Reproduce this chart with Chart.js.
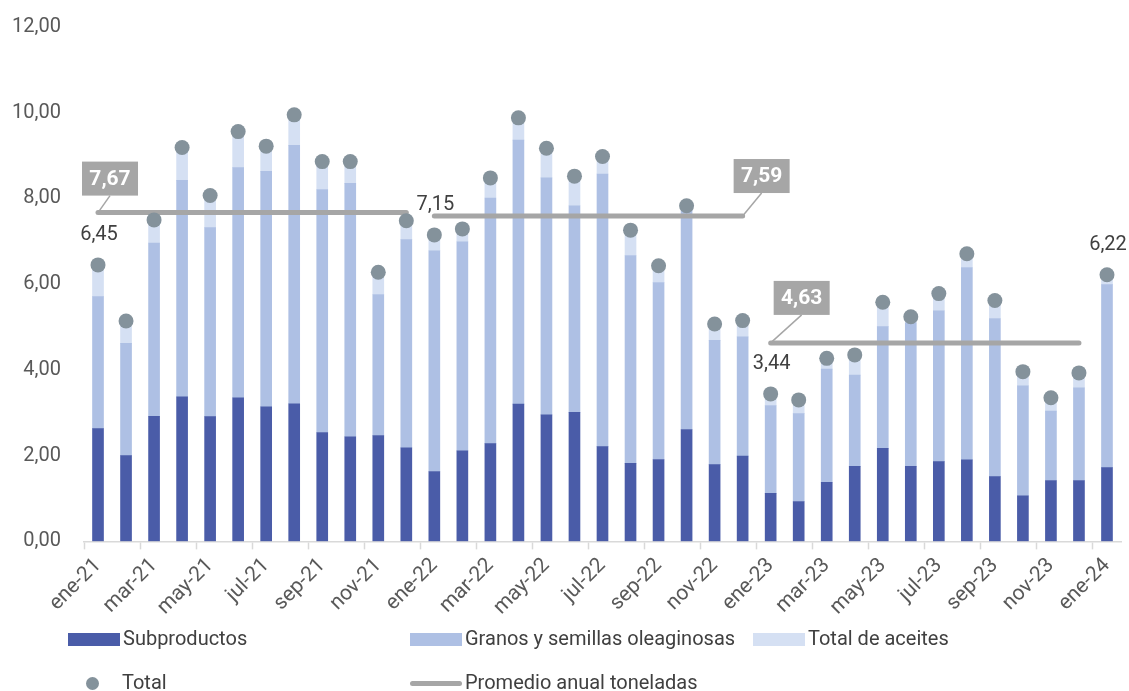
<!DOCTYPE html>
<html>
<head>
<meta charset="utf-8">
<script src="https://cdn.jsdelivr.net/npm/chart.js@4"></script>
<style>
  body { margin:0; background:#fff; font-family: Roboto, sans-serif; }
  #wrap { position:relative; width:1129px; height:691px; }
  #leg { position:absolute; left:0; top:0; width:1129px; height:691px; pointer-events:none; color:#404040; font-size:20px; }
  .it { position:absolute; height:24px; line-height:24px; white-space:nowrap; }
  .sw { display:inline-block; vertical-align:middle; margin-right:3px; }
</style>
</head>
<body>
<div id="wrap">
  <canvas id="myChart" width="1129" height="691"></canvas>
  <div id="leg">
    <div class="it" style="left:68px;top:626px"><span class="sw" style="width:52px;height:13px;background:#4a5ca8"></span>Subproductos</div>
    <div class="it" style="left:410px;top:626px"><span class="sw" style="width:52px;height:13px;background:#aec0e4"></span>Granos y semillas oleaginosas</div>
    <div class="it" style="left:753px;top:626px"><span class="sw" style="width:52px;height:13px;background:#d5e0f3"></span>Total de aceites</div>
    <div class="it" style="left:86px;top:670px"><span class="sw" style="width:13px;height:13px;border-radius:50%;background:#84929b;margin-right:23px"></span>Total</div>
    <div class="it" style="left:410px;top:670px"><span class="sw" style="width:52px;height:5px;border-radius:3px;background:#a6a6a6"></span>Promedio anual toneladas</div>
  </div>
</div>
<script>
var meses = ['ene','feb','mar','abr','may','jun','jul','ago','sep','oct','nov','dic'];
var etiquetas = [];
for (var y = 21; y <= 23; y++) {
    for (var m = 0; m < 12; m++) etiquetas.push(meses[m] + '-' + y);
}
etiquetas.push('ene-24');

var subproductos = [2.63,2.00,2.92,3.37,2.91,3.35,3.14,3.21,2.54,2.44,2.47,2.18,
                    1.63,2.11,2.28,3.20,2.95,3.01,2.21,1.82,1.91,2.61,1.79,1.99,
                    1.12,0.93,1.38,1.75,2.17,1.75,1.86,1.90,1.51,1.06,1.42,1.42,1.72];
var granos = [3.08,2.62,4.04,5.05,4.41,5.37,5.49,6.03,5.67,5.91,3.29,4.86,
              5.15,4.88,5.73,6.16,5.53,4.82,6.36,4.85,4.13,5.14,2.90,2.78,
              2.05,2.05,2.64,2.13,2.84,3.35,3.52,4.49,3.69,2.57,1.62,2.16,4.27];
var aceites = [0.74,0.52,0.54,0.77,0.75,0.84,0.59,0.71,0.65,0.51,0.52,0.44,
               0.37,0.30,0.47,0.52,0.69,0.69,0.41,0.59,0.39,0.08,0.38,0.38,
               0.27,0.32,0.25,0.47,0.57,0.14,0.40,0.32,0.42,0.33,0.31,0.35,0.23];
var total = [6.45,5.14,7.50,9.19,8.07,9.56,9.22,9.95,8.86,8.86,6.28,7.48,
             7.15,7.29,8.48,9.88,9.17,8.52,8.98,7.26,6.43,7.83,5.07,5.15,
             3.44,3.30,4.27,4.35,5.58,5.24,5.78,6.71,5.62,3.96,3.35,3.93,6.22];
var promedios = [7.67, 7.59, 4.63];
var yTicks = [0,2,4,6,8,10,12];

// linea de promedio por año
function promedioAnio(k){
    var d = [];
    for (var i = 0; i < etiquetas.length; i++) d.push(Math.floor(i/12) === k ? promedios[k] : null);
    return d;
}

function fmt(v){ return v.toFixed(2).replace('.', ','); }

var anotaciones = {
    id: 'anotaciones',
    afterDatasetsDraw: function(chart){
        var ctx = chart.ctx, xs = chart.scales.x, ys = chart.scales.y;
        // etiquetas de total
        var lbl = [0, 12, 24, 36];
        ctx.save();
        ctx.font = '20px Roboto';
        ctx.fillStyle = '#404040';
        ctx.textAlign = 'center';
        ctx.textBaseline = 'middle';
        lbl.forEach(function(i){
            ctx.fillText(fmt(total[i]), xs.getPixelForValue(i) + 1, ys.getPixelForValue(total[i]) - 30);
        });
        // cajas de promedio: [indice, dx caja, dy caja]
        var cajas = [[0, 12, -17], [23, 19, -23], [24, 31, -28]];
        cajas.forEach(function(c, k){
            var px = xs.getPixelForValue(c[0]), py = ys.getPixelForValue(promedios[k]);
            var bx = px + c[1], by = py + c[2];
            ctx.strokeStyle = '#a6a6a6';
            ctx.lineWidth = 1.5;
            ctx.beginPath(); ctx.moveTo(px, py); ctx.lineTo(bx, by); ctx.stroke();
            ctx.fillStyle = '#a6a6a6';
            ctx.fillRect(bx - 28, by - 34, 56, 34);
            ctx.fillStyle = '#fff';
            ctx.font = 'bold 21px Roboto';
            ctx.fillText(fmt(promedios[k]), bx, by - 16);
        });
        ctx.restore();
    }
};

var ctx = document.getElementById('myChart').getContext('2d');
var chart = new Chart(ctx, {
    type: 'bar',
    data: {
        labels: etiquetas,
        datasets: [{
            type: 'line', label: 'Total', data: total, order: 0, stack: 't',
            showLine: false, pointRadius: 7.5, pointHoverRadius: 7.5,
            pointBackgroundColor: '#84929b', pointBorderWidth: 0, borderColor: '#84929b'
        }, {
            type: 'line', label: 'Promedio 2021', data: promedioAnio(0), order: 1, stack: 'p0',
            borderColor: '#a6a6a6', borderWidth: 5, borderCapStyle: 'round', pointRadius: 0, spanGaps: false
        }, {
            type: 'line', label: 'Promedio 2022', data: promedioAnio(1), order: 1, stack: 'p1',
            borderColor: '#a6a6a6', borderWidth: 5, borderCapStyle: 'round', pointRadius: 0, spanGaps: false
        }, {
            type: 'line', label: 'Promedio 2023', data: promedioAnio(2), order: 1, stack: 'p2',
            borderColor: '#a6a6a6', borderWidth: 5, borderCapStyle: 'round', pointRadius: 0, spanGaps: false
        }, {
            label: 'Subproductos', data: subproductos, backgroundColor: '#4a5ca8', order: 2, barThickness: 11, stack: 's'
        }, {
            label: 'Granos y semillas oleaginosas', data: granos, backgroundColor: '#aec0e4', order: 2, barThickness: 11, stack: 's'
        }, {
            label: 'Total de aceites', data: aceites, backgroundColor: '#d5e0f3', order: 2, barThickness: 11, stack: 's'
        }]
    },
    options: {
        responsive: false,
        animation: false,
        layout: { padding: { top: 0, right: 8, bottom: 67, left: 0 } },
        plugins: { legend: { display: false }, tooltip: { enabled: false } },
        scales: {
            x: {
                stacked: true,
                grid: {
                    display: true, drawOnChartArea: false, tickLength: 8, tickWidth: 1.5,
                    color: function(c){ return c.index % 2 === 0 ? '#d9d9d9' : 'rgba(0,0,0,0)'; }
                },
                border: { color: '#d9d9d9', width: 1.5 },
                ticks: {
                    autoSkip: false, maxRotation: 45, minRotation: 45, padding: 4,
                    color: '#595959', font: { family: 'Roboto', size: 21 },
                    callback: function(v, i){ return i % 2 === 0 ? etiquetas[i] : ''; }
                }
            },
            y: {
                stacked: true, min: 0, max: 12,
                afterBuildTicks: function(s){ s.ticks = yTicks.map(function(v){ return {value: v}; }); },
                afterFit: function(s){ s.width = 84; },
                grid: { display: false },
                border: { display: false },
                ticks: {
                    padding: 15, color: '#595959', font: { family: 'Roboto', size: 20 },
                    callback: function(v){ return fmt(v); }
                }
            }
        }
    },
    plugins: [anotaciones]
});
</script>
</body>
</html>
